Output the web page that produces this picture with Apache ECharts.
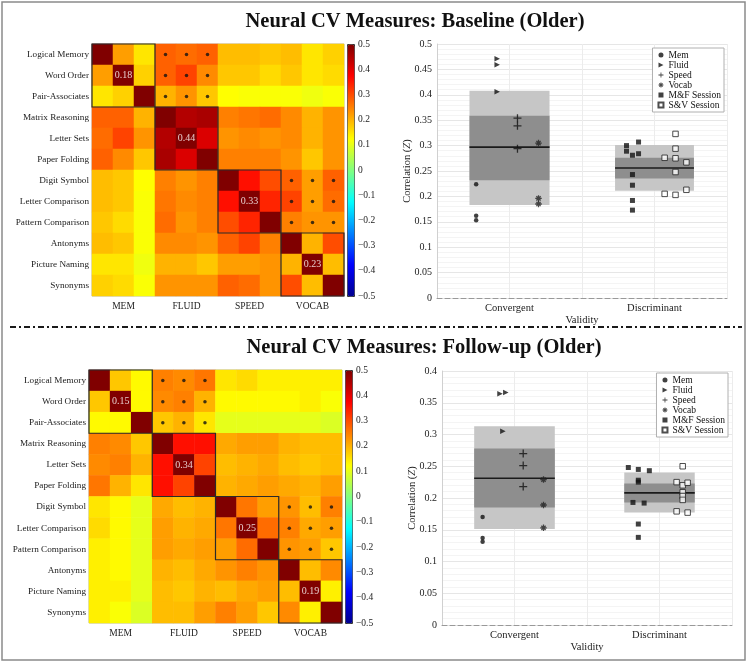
<!DOCTYPE html>
<html>
<head>
<meta charset="utf-8">
<script src="https://cdn.jsdelivr.net/npm/echarts@6/dist/echarts.min.js"></script>
<style>
  html, body { margin: 0; padding: 0; background: #fff; }
  #main { width: 750px; height: 663px; }
</style>
</head>
<body>
<div id="main"></div>
<script>
var measures = ['Logical Memory', 'Word Order', 'Pair-Associates', 'Matrix Reasoning', 'Letter Sets', 'Paper Folding',
  'Digit Symbol', 'Letter Comparison', 'Pattern Comparison', 'Antonyms', 'Picture Naming', 'Synonyms']
var domains = ['MEM', 'FLUID', 'SPEED', 'VOCAB']

// lower triangles of the correlation matrices (diagonal = 1)
var baselineLower = [
  [],
  [0.22],
  [0.15, 0.17],
  [0.28, 0.28, 0.20],
  [0.27, 0.31, 0.23, 0.45],
  [0.28, 0.24, 0.18, 0.46, 0.41],
  [0.19, 0.18, 0.125, 0.25, 0.23, 0.25],
  [0.19, 0.18, 0.12, 0.26, 0.24, 0.25, 0.36],
  [0.18, 0.16, 0.12, 0.27, 0.23, 0.25, 0.30, 0.34],
  [0.19, 0.18, 0.12, 0.24, 0.24, 0.23, 0.28, 0.31, 0.25],
  [0.15, 0.15, 0.11, 0.20, 0.20, 0.18, 0.22, 0.22, 0.23, 0.20],
  [0.17, 0.16, 0.12, 0.23, 0.23, 0.23, 0.28, 0.27, 0.23, 0.30, 0.19]
]
var followupLower = [
  [],
  [0.18],
  [0.13, 0.13],
  [0.25, 0.24, 0.18],
  [0.24, 0.25, 0.20, 0.36],
  [0.26, 0.20, 0.15, 0.36, 0.31],
  [0.15, 0.13, 0.10, 0.21, 0.19, 0.20],
  [0.16, 0.13, 0.10, 0.22, 0.20, 0.21, 0.26],
  [0.14, 0.13, 0.10, 0.22, 0.21, 0.22, 0.22, 0.27],
  [0.14, 0.13, 0.10, 0.20, 0.19, 0.21, 0.23, 0.25, 0.23],
  [0.14, 0.14, 0.10, 0.19, 0.18, 0.20, 0.19, 0.21, 0.22, 0.19],
  [0.14, 0.12, 0.09, 0.19, 0.19, 0.22, 0.25, 0.22, 0.18, 0.24, 0.14]
]
var baselineMeans = ['0.18', '0.44', '0.33', '0.23']
var followupMeans = ['0.15', '0.34', '0.25', '0.19']
// blocks marked with dots in the upper triangle: [row start, col start]
var sigBlocks = [[0, 3], [6, 9]]

// validity points: [jittered x, Z]
var baseMem = [[0.77, 0.224], [0.77, 0.162], [0.77, 0.153]]
var baseFluid = [[0.915, 0.471], [0.915, 0.459], [0.915, 0.406]]
var baseSpeed = [[1.055, 0.354], [1.055, 0.339], [1.055, 0.294]]
var baseVocab = [[1.2, 0.305], [1.2, 0.196], [1.2, 0.185]]
var baseMF = [[1.807, 0.300], [1.807, 0.289], [1.848, 0.281], [1.89, 0.307], [1.89, 0.284], [1.848, 0.243], [1.848, 0.222], [1.848, 0.192], [1.848, 0.173]]
var baseSV = [[2.145, 0.323], [2.145, 0.294], [2.07, 0.276], [2.145, 0.275], [2.22, 0.267], [2.145, 0.248], [2.07, 0.205], [2.145, 0.203], [2.22, 0.213]]
// [outer low, outer high, inner low, inner high, mean]
var baseConv = [0.183, 0.408, 0.232, 0.359, 0.297]
var baseDisc = [0.211, 0.301, 0.235, 0.276, 0.256]

var fuMem = [[0.78, 0.170], [0.78, 0.137], [0.78, 0.131]]
var fuFluid = [[0.90, 0.364], [0.94, 0.366], [0.92, 0.305]]
var fuSpeed = [[1.06, 0.270], [1.06, 0.251], [1.06, 0.218]]
var fuVocab = [[1.2, 0.229], [1.2, 0.189], [1.2, 0.153]]
var fuMF = [[1.785, 0.248], [1.854, 0.245], [1.93, 0.243], [1.854, 0.228], [1.854, 0.225], [1.817, 0.193], [1.894, 0.192], [1.854, 0.159], [1.854, 0.138]]
var fuSV = [[2.16, 0.250], [2.118, 0.225], [2.16, 0.220], [2.194, 0.224], [2.16, 0.209], [2.16, 0.203], [2.16, 0.197], [2.118, 0.179], [2.194, 0.177]]
var fuConv = [0.151, 0.313, 0.185, 0.278, 0.231]
var fuDisc = [0.177, 0.240, 0.193, 0.223, 0.208]

var FONT = 'Liberation Serif'
var jet = ['#00008f', '#0000ff', '#0080ff', '#00ffff', '#80ff80', '#ffff00', '#ff8000', '#ff0000', '#800000']
var legendNames = ['Mem', 'Fluid', 'Speed', 'Vocab', 'M&F Session', 'S&V Session']

var option = {
  animation: false,
  textStyle: { fontFamily: FONT, color: '#222' },
  grid: [], xAxis: [], yAxis: [], series: [], visualMap: [], legend: [],
  graphic: []
}

function fullMatrix (lower) {
  var n = lower.length, cells = []
  for (var i = 0; i < n; i++) {
    for (var j = 0; j < n; j++) {
      var v = i === j ? 1 : (j < i ? lower[i][j] : lower[j][i])
      cells.push([j, i, v])
    }
  }
  return cells
}

function addMatrix (lower, means, left, top, size, cbLeft) {
  var gi = option.grid.length
  option.grid.push({ left: left, top: top, width: size, height: size, show: true, borderColor: '#b5b5b5', borderWidth: 1 })
  option.xAxis.push({
    gridIndex: gi, type: 'category', data: measures,
    axisLine: { show: false }, axisTick: { show: false }, splitLine: { show: false },
    axisLabel: {
      interval: 0, margin: 5, fontSize: 9.5, color: '#222',
      formatter: function (v, i) { return i % 3 === 1 ? domains[(i - 1) / 3] : '' }
    }
  })
  option.yAxis.push({
    gridIndex: gi, type: 'category', data: measures, inverse: true,
    axisLine: { show: false }, axisTick: { show: false }, splitLine: { show: false },
    axisLabel: { interval: 0, margin: 3, fontSize: 9.2, color: '#222' }
  })
  var hmIdx = option.series.length
  option.series.push({
    type: 'heatmap', xAxisIndex: gi, yAxisIndex: gi, data: fullMatrix(lower),
    itemStyle: { borderWidth: 0 }
  })
  // block outlines
  option.series.push({
    type: 'custom', xAxisIndex: gi, yAxisIndex: gi, z: 4,
    data: [[0, 0], [3, 3], [6, 6], [9, 9]],
    renderItem: function (params, api) {
      var c = api.coord([api.value(0), api.value(1)])
      var s = api.size([1, 1])
      return {
        type: 'rect',
        shape: { x: c[0] - s[0] / 2, y: c[1] - s[1] / 2, width: 3 * s[0], height: 3 * s[1] },
        style: { fill: 'none', stroke: '#2a2a2a', lineWidth: 1.2 }
      }
    }
  })
  var dots = []
  sigBlocks.forEach(function (b) {
    for (var r = 0; r < 3; r++) for (var c = 0; c < 3; c++) dots.push([b[1] + c, b[0] + r])
  })
  option.series.push({
    type: 'scatter', xAxisIndex: gi, yAxisIndex: gi, z: 5, symbolSize: 3.5,
    itemStyle: { color: '#111' }, data: dots
  })
  option.series.push({
    type: 'scatter', xAxisIndex: gi, yAxisIndex: gi, z: 5, symbolSize: 1,
    itemStyle: { color: 'transparent' },
    label: {
      show: true, position: 'inside', color: '#fff', fontSize: 10, fontFamily: FONT,
      formatter: function (p) { return p.value[2] }
    },
    data: means.map(function (m, k) { return [3 * k + 1, 3 * k + 1, m] })
  })
  // colour bar
  option.visualMap.push({
    type: 'continuous', seriesIndex: hmIdx, min: -0.5, max: 0.5, calculable: false,
    orient: 'vertical', left: cbLeft, top: top, itemWidth: 7, itemHeight: size,
    padding: 0, borderColor: '#333', borderWidth: 1, showLabel: false,
    inRange: { color: jet }
  })
  var ci = option.grid.length
  option.grid.push({ left: cbLeft, top: top, width: 7, height: size })
  option.xAxis.push({ gridIndex: ci, type: 'value', show: false })
  option.yAxis.push({
    gridIndex: ci, type: 'value', min: -0.5, max: 0.5, interval: 0.1, position: 'right',
    axisLine: { show: false }, axisTick: { show: false }, splitLine: { show: false },
    axisLabel: {
      margin: 4, fontSize: 9.5, color: '#222',
      formatter: function (v) { return (Math.round(v * 10) / 10).toString().replace('-', '\u2212') }
    }
  })
}

function addValidity (pts, conv, disc, halfW, left, top, width, height, ymax, legendPos) {
  var gi = option.grid.length
  option.grid.push({ left: left, top: top, width: width, height: height })
  option.xAxis.push({
    gridIndex: gi, type: 'value', min: 0.5, max: 2.5, interval: 0.5,
    name: 'Validity', nameLocation: 'middle', nameGap: 17, nameMoveOverlap: false,
    nameTextStyle: { fontSize: 10.5, color: '#222', fontFamily: FONT },
    axisLine: { onZero: false, lineStyle: { color: '#999', type: [5, 3], width: 1 } },
    axisTick: { show: false },
    splitLine: { lineStyle: { color: '#ececec' } },
    axisLabel: {
      fontSize: 10.5, color: '#222', margin: 5,
      formatter: function (v) { return v === 1 ? 'Convergent' : (v === 2 ? 'Discriminant' : '') }
    }
  })
  option.yAxis.push({
    gridIndex: gi, type: 'value', min: 0, max: ymax, interval: 0.05,
    name: 'Correlation ({i|Z})', nameLocation: 'middle', nameGap: 24, nameRotate: 90, nameMoveOverlap: false,
    nameTextStyle: { fontSize: 10.5, color: '#222', fontFamily: FONT, rich: { i: { fontStyle: 'italic', fontSize: 10.5, fontFamily: FONT } } },
    axisLine: { show: true, lineStyle: { color: '#d0d0d0' } },
    axisTick: { show: false },
    splitLine: { lineStyle: { color: '#e6e6e6' } },
    minorSplitLine: { show: true, lineStyle: { color: '#f4f4f4' } },
    minorTick: { show: false, splitNumber: 5 },
    axisLabel: {
      fontSize: 10, color: '#222', margin: 5,
      formatter: function (v) { return parseFloat(v.toFixed(2)).toString() }
    }
  })
  option.series.push({
    type: 'custom', xAxisIndex: gi, yAxisIndex: gi, z: 1,
    data: [[1].concat(conv, [halfW[0]]), [2].concat(disc, [halfW[1]])],
    renderItem: function (params, api) {
      var x = api.value(0), hw = api.value(6)
      var o1 = api.coord([x - hw, api.value(2)]), o2 = api.coord([x + hw, api.value(1)])
      var i1 = api.coord([x - hw, api.value(4)]), i2 = api.coord([x + hw, api.value(3)])
      var m = api.coord([x - hw, api.value(5)])
      return {
        type: 'group',
        children: [
          { type: 'rect', shape: { x: o1[0], y: o1[1], width: o2[0] - o1[0], height: o2[1] - o1[1] }, style: { fill: '#c6c6c6' } },
          { type: 'rect', shape: { x: i1[0], y: i1[1], width: i2[0] - i1[0], height: i2[1] - i1[1] }, style: { fill: '#8e8e8e' } },
          { type: 'line', shape: { x1: o1[0], y1: m[1], x2: o2[0], y2: m[1] }, style: { stroke: '#1a1a1a', lineWidth: 1.6 } }
        ]
      }
    }
  })
  var styles = [
    { symbol: 'circle', symbolSize: 4.5, itemStyle: { color: '#111' } },
    { symbol: 'path://M0,0L10,5L0,10Z', symbolSize: 5.5, itemStyle: { color: '#111' } },
    { symbol: 'path://M4.2,0H5.8V4.2H10V5.8H5.8V10H4.2V5.8H0V4.2H4.2Z', symbolSize: 8, itemStyle: { color: '#111' } },
    { symbol: 'path://M4,0H6V10H4Z M0,4H10V6H0Z M1,2.4L2.4,1L9,7.6L7.6,9Z M7.6,1L9,2.4L2.4,9L1,7.6Z', symbolSize: 6.5, itemStyle: { color: '#222' } },
    { symbol: 'rect', symbolSize: 5, itemStyle: { color: '#111' } },
    { symbol: 'rect', symbolSize: 5.5, itemStyle: { color: '#fff', borderColor: '#222', borderWidth: 1 } }
  ]
  pts.forEach(function (d, k) {
    option.series.push(Object.assign({
      type: 'scatter', name: legendNames[k], xAxisIndex: gi, yAxisIndex: gi, z: 3, data: d
    }, styles[k]))
  })
  option.legend.push({
    data: legendNames, orient: 'vertical', top: legendPos[1], right: legendPos[0],
    itemWidth: 5, itemHeight: 5, itemGap: 0, padding: [2, 3, 2, 5],
    backgroundColor: '#fff', borderColor: '#b0b0b0', borderWidth: 1,
    textStyle: { fontSize: 9.5, lineHeight: 9.4, color: '#111', fontFamily: FONT }
  })
}

addMatrix(baselineLower, baselineMeans, 92, 44, 252, 347)
addValidity([baseMem, baseFluid, baseSpeed, baseVocab, baseMF, baseSV], baseConv, baseDisc, [0.276, 0.272],
  437, 44, 290, 254, 0.5, [26, 48])
addMatrix(followupLower, followupMeans, 89, 370, 253, 345)
addValidity([fuMem, fuFluid, fuSpeed, fuVocab, fuMF, fuSV], fuConv, fuDisc, [0.278, 0.243],
  442, 371, 290, 254, 0.4, [22, 373])

option.graphic = [
  { type: 'rect', shape: { x: 2, y: 2, width: 743, height: 658 }, style: { fill: 'none', stroke: '#8a8a8a', lineWidth: 1.5 } },
  { type: 'line', shape: { x1: 10, y1: 327, x2: 742, y2: 327 }, style: { stroke: '#1a1a1a', lineWidth: 2, lineDash: [6, 3, 2, 3] } },
  { type: 'text', x: 415, y: 22, style: { text: 'Neural CV Measures: Baseline (Older)', font: 'bold 20.5px "Liberation Serif"', fill: '#111', textAlign: 'center', textVerticalAlign: 'middle' } },
  { type: 'text', x: 424, y: 348, style: { text: 'Neural CV Measures: Follow-up (Older)', font: 'bold 20.5px "Liberation Serif"', fill: '#111', textAlign: 'center', textVerticalAlign: 'middle' } }
]

var chart = echarts.init(document.getElementById('main'))
chart.setOption(option)
</script>
</body>
</html>
